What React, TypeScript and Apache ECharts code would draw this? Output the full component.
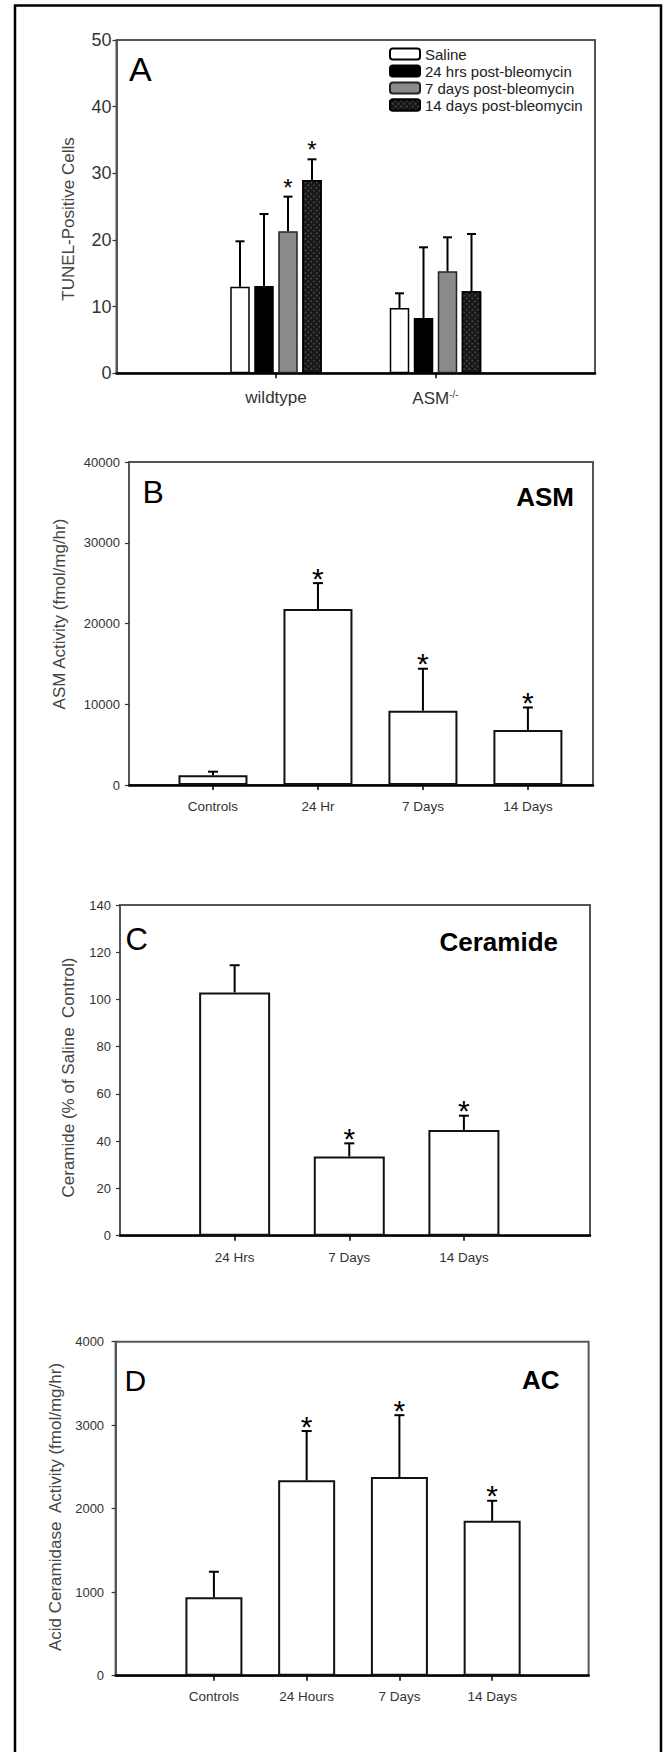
import React, { useEffect, useRef } from 'react';
import * as echarts from 'echarts';

const FONT = '"Liberation Sans", Arial, Helvetica, sans-serif';

// ---------- Panel A: TUNEL-positive cells ----------
const tunelGroups = ['', 'wildtype', 'ASM-/-', ''];
const tunelSeriesNames = ['Saline', '24 hrs post-bleomycin', '7 days post-bleomycin', '14 days post-bleomycin'];
const tunelWildtype = [13.0, 13.1, 21.3, 29.0];
const tunelWildtypeErr = [6.8, 10.8, 5.2, 3.1];
const tunelWildtypeStar = [false, false, true, true];
const tunelAsm = [9.8, 8.3, 15.3, 12.3];
const tunelAsmErr = [2.2, 10.6, 5.1, 8.6];
const tunelAsmStar = [false, false, false, false];

// ---------- Panel B: ASM activity ----------
const asmCategories = ['Controls', '24 Hr', '7 Days', '14 Days'];
const asmActivity = [1200, 21800, 9200, 6800];
const asmErr = [450, 3200, 5200, 2800];
const asmStar = [false, true, true, true];

// ---------- Panel C: Ceramide ----------
const ceramideCategories = ['24 Hrs', '7 Days', '14 Days'];
const ceramidePct = [103, 33.5, 44.7];
const ceramideErr = [11.5, 5.6, 6.1];
const ceramideStar = [false, true, true];

// ---------- Panel D: Acid ceramidase ----------
const acCategories = ['Controls', '24 Hours', '7 Days', '14 Days'];
const acActivity = [940, 2340, 2380, 1855];
const acErr = [305, 590, 740, 240];
const acStar = [false, true, true, true];

const GRIDS = [
  { left: 116.5, top: 40, width: 478.5, height: 333.3 },
  { left: 129, top: 462, width: 464, height: 323 },
  { left: 120, top: 905, width: 470, height: 330.7 },
  { left: 115.6, top: 1341.7, width: 473, height: 334 },
];

const A_BAR_W = 19.5;
const A_BAR_GAP = 4.5;

function errorSeries(idx: number, data: any[], cfg: { cap: number; starSize: number; starLift: number; slot?: number }) {
  return {
    type: 'custom',
    xAxisIndex: idx,
    yAxisIndex: idx,
    data,
    z: 5,
    silent: true,
    renderItem: (_params: any, api: any) => {
      const x = api.value(0);
      const m = api.value(1);
      const e = api.value(2);
      const s = api.value(3);
      const k = cfg.slot ? api.value(4) : 0;
      const base = api.coord([x, m]);
      const top = api.coord([x, m + e]);
      const px = base[0] + (cfg.slot ? (k - 1.5) * cfg.slot : 0);
      const children: any[] = [
        { type: 'line', shape: { x1: px, y1: base[1], x2: px, y2: top[1] }, style: { stroke: '#000', lineWidth: 2 } },
        { type: 'line', shape: { x1: px - cfg.cap / 2, y1: top[1], x2: px + cfg.cap / 2, y2: top[1] }, style: { stroke: '#000', lineWidth: 2 } },
      ];
      if (s) {
        children.push({
          type: 'text',
          x: px,
          y: top[1] - cfg.starLift,
          style: { text: '*', fontSize: cfg.starSize, fontFamily: FONT, fill: '#000', align: 'center', verticalAlign: 'middle' },
        });
      }
      return { type: 'group', children };
    },
  };
}

function valueXAxis(idx: number, cats: string[], min: number, max: number, margin: number) {
  const pos = cats.map((_, i) => i + 1);
  return {
    gridIndex: idx,
    type: 'value',
    min,
    max,
    splitLine: { show: false },
    axisLine: { show: true, onZero: false, lineStyle: { color: '#000', width: 2.5 } },
    axisTick: { show: true, customValues: pos, length: 5, lineStyle: { color: '#000', width: 1.5 } },
    axisLabel: {
      show: true,
      customValues: pos,
      formatter: (v: number) => cats[Math.round(v) - 1] ?? '',
      margin,
      fontSize: 13.5,
      color: '#333',
      fontFamily: FONT,
    },
  };
}

function valueYAxis(idx: number, max: number, interval: number, margin: number, fontSize: number, extra: any = {}) {
  return {
    gridIndex: idx,
    type: 'value',
    min: 0,
    max,
    interval,
    splitLine: { show: false },
    axisLine: { show: true, onZero: false, lineStyle: { color: '#555', width: 2 } },
    axisTick: { show: true, length: 4, lineStyle: { color: '#333', width: 1.2 } },
    axisLabel: {
      show: true,
      margin,
      fontSize,
      color: '#333',
      fontFamily: FONT,
      formatter: (v: number) => String(Math.round(v)),
      ...extra,
    },
  };
}

function whiteBars(idx: number, values: number[], barWidth: number) {
  return {
    type: 'bar',
    xAxisIndex: idx,
    yAxisIndex: idx,
    barWidth,
    data: values.map((v, i) => [i + 1, v]),
    itemStyle: { color: '#fff', borderColor: '#111', borderWidth: 2 },
    silent: true,
    z: 2,
  };
}

function simpleErr(values: number[], errs: number[], stars: boolean[]) {
  return values.map((v, i) => [i + 1, v, errs[i], stars[i] ? 1 : 0]);
}

function buildOption(): any {
  const aStyles = [
    { color: '#fff', borderColor: '#000', borderWidth: 1.5 },
    { color: '#000', borderColor: '#000', borderWidth: 1.5 },
    { color: '#8a8a8a', borderColor: '#222', borderWidth: 1.5 },
    {
      color: '#161616',
      borderColor: '#000',
      borderWidth: 1.5,
      decal: { symbol: 'circle', symbolSize: 0.7, color: '#7a7a7a', dashArrayX: [2, 2], dashArrayY: [2, 2], rotation: Math.PI / 4 },
    },
  ];

  const aBars = tunelSeriesNames.map((name, k) => ({
    type: 'bar',
    name,
    xAxisIndex: 0,
    yAxisIndex: 0,
    barWidth: A_BAR_W,
    barGap: `${(A_BAR_GAP / A_BAR_W) * 100}%`,
    data: ['-', tunelWildtype[k], tunelAsm[k], '-'],
    itemStyle: aStyles[k],
    silent: true,
    z: 2,
  }));

  const aErrData: any[] = [];
  tunelSeriesNames.forEach((_, k) => {
    aErrData.push([1, tunelWildtype[k], tunelWildtypeErr[k], tunelWildtypeStar[k] ? 1 : 0, k]);
    aErrData.push([2, tunelAsm[k], tunelAsmErr[k], tunelAsmStar[k] ? 1 : 0, k]);
  });

  const yTitle = (x: number, y: number, text: string) => ({
    type: 'text',
    x,
    y,
    rotation: Math.PI / 2,
    silent: true,
    style: { text, fontSize: 17, fontFamily: FONT, fill: '#444', align: 'center', verticalAlign: 'middle', textAlign: 'center', textVerticalAlign: 'middle' },
  });
  const letter = (x: number, y: number, text: string, size: number) => ({
    type: 'text',
    x,
    y,
    silent: true,
    style: { text, fontSize: size, fontFamily: FONT, fill: '#000', align: 'left', verticalAlign: 'middle', textAlign: 'left', textVerticalAlign: 'middle' },
  });
  const boldTag = (x: number, y: number, text: string) => ({
    type: 'text',
    x,
    y,
    silent: true,
    style: { text, fontSize: 26, fontWeight: 'bold', fontFamily: FONT, fill: '#000', align: 'right', verticalAlign: 'middle', textAlign: 'right', textVerticalAlign: 'middle' },
  });

  return {
    animation: false,
    backgroundColor: '#fff',
    grid: GRIDS.map((g) => ({ ...g, show: true, borderColor: '#555', borderWidth: 2, containLabel: false, outerBoundsMode: 'none' })),
    legend: {
      data: tunelSeriesNames,
      orient: 'vertical',
      left: 389,
      top: 46.5,
      padding: 0,
      itemWidth: 30,
      itemHeight: 11,
      itemGap: 2,
      selectedMode: false,
      icon: 'roundRect',
      textStyle: { fontSize: 15, color: '#222', fontFamily: FONT },
    },
    xAxis: [
      {
        gridIndex: 0,
        type: 'category',
        data: tunelGroups,
        boundaryGap: false,
        axisLine: { show: true, onZero: false, lineStyle: { color: '#000', width: 2.5 } },
        axisTick: { show: true, interval: (i: number) => i === 1 || i === 2, length: 5, lineStyle: { color: '#000', width: 1.5 } },
        axisLabel: {
          interval: 0,
          margin: 16,
          fontSize: 17,
          color: '#333',
          fontFamily: FONT,
          formatter: (v: string) => (v === 'ASM-/-' ? '{m|ASM}{s|-/-}' : v),
          rich: {
            m: { fontSize: 17, color: '#333', fontFamily: FONT },
            s: { fontSize: 10, color: '#444', fontFamily: FONT, verticalAlign: 'top', padding: [0, 0, 8, 0] },
          },
        },
        splitLine: { show: false },
      },
      valueXAxis(1, asmCategories, 0.2, 4.62, 14),
      valueXAxis(2, ceramideCategories, 0, 4.1, 15),
      valueXAxis(3, acCategories, -0.06, 5.04, 14),
    ],
    yAxis: [
      valueYAxis(0, 50, 10, 5, 18, { padding: [10, 0, 0, 0] }),
      valueYAxis(1, 40000, 10000, 9, 13),
      valueYAxis(2, 140, 20, 9, 13),
      valueYAxis(3, 4000, 1000, 11.5, 13),
    ],
    series: [
      ...aBars,
      errorSeries(0, aErrData, { cap: 9, starSize: 24, starLift: 9.4, slot: A_BAR_W + A_BAR_GAP }),
      whiteBars(1, asmActivity, 69),
      errorSeries(1, simpleErr(asmActivity, asmErr, asmStar), { cap: 10, starSize: 30, starLift: 5 }),
      whiteBars(2, ceramidePct, 71),
      errorSeries(2, simpleErr(ceramidePct, ceramideErr, ceramideStar), { cap: 10, starSize: 30, starLift: 5 }),
      whiteBars(3, acActivity, 57),
      errorSeries(3, simpleErr(acActivity, acErr, acStar), { cap: 10, starSize: 30, starLift: 5 }),
    ],
    graphic: [
      { type: 'rect', silent: true, shape: { x: 15, y: 5.5, width: 646, height: 1800 }, style: { fill: 'none', stroke: '#000', lineWidth: 2.5 } },
      letter(129, 69.2, 'A', 34),
      letter(142.5, 491.7, 'B', 32),
      letter(125.5, 939, 'C', 31),
      letter(124.6, 1380, 'D', 30),
      boldTag(574, 497.3, 'ASM'),
      boldTag(558, 942, 'Ceramide'),
      boldTag(559.5, 1380, 'AC'),
      yTitle(68, 219, 'TUNEL-Positive Cells'),
      yTitle(59, 614, 'ASM Activity (fmol/mg/hr)'),
      yTitle(68, 1077.5, 'Ceramide (% of Saline  Control)'),
      yTitle(55, 1507, 'Acid Ceramidase  Activity (fmol/mg/hr)'),
    ],
  };
}

export default function App() {
  const ref = useRef<HTMLDivElement>(null);
  useEffect(() => {
    if (!ref.current) return;
    const chart = echarts.init(ref.current, null, { renderer: 'svg' });
    chart.setOption(buildOption());
    return () => chart.dispose();
  }, []);
  return (
    <div
      ref={ref}
      style={{ position: 'fixed', left: 0, top: 0, width: 664, height: 1752, background: '#fff' }}
    />
  );
}
